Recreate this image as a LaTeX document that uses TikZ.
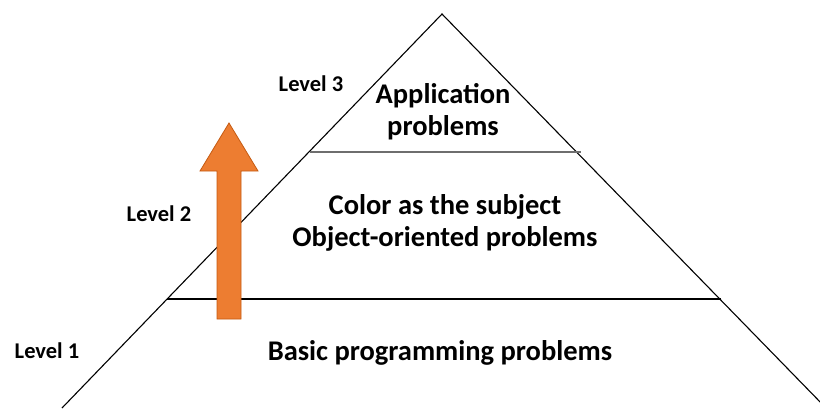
\documentclass[tikz,border=0pt]{standalone}
\usepackage{fontspec}
\setmainfont{Carlito}
\definecolor{arrowfill}{RGB}{237,125,49}
\definecolor{arrowline}{RGB}{197,90,17}
\definecolor{midgray}{RGB}{110,110,110}
\begin{document}
\begin{tikzpicture}[x=1pt,y=-1pt,
  level/.style={font=\bfseries\fontsize{22.5}{26}\selectfont, inner sep=0pt},
  tier/.style={font=\bfseries\fontsize{28.5}{32}\selectfont, align=center, inner sep=0pt}]
\useasboundingbox (0,0) rectangle (820,408);
\coordinate (apex) at (442,14);
\coordinate (baseL) at (62,408);
\coordinate (baseR) at (826,408);
% pyramid
\begin{scope}
\clip (0,0) rectangle (820,408);
\draw[line width=1.1pt] (baseL) -- (apex) -- (baseR);
\end{scope}
\draw[midgray,line width=1.8pt] (310,152) -- (581,152);
\draw[black,line width=2.2pt] (167,299) -- (721,299);
% arrow
\draw[fill=arrowfill,draw=arrowline,line width=0.8pt]
  (217,319) -- (241,319) -- (241,171) -- (258,171) -- (229,123)
  -- (200,171) -- (217,171) -- cycle;
% labels
\node[level] (lv3) at (311,84) {Level 3};
\node[level] (lv2) at (159,214) {Level 2};
\node[level] (lv1) at (47,351) {Level 1};
\node[tier] (app) at (443,112) {Application\\problems};
\node[tier] (color) at (445,223) {Color as the subject\\Object-oriented problems};
\node[tier] (basic) at (440,353) {Basic programming problems};
\end{tikzpicture}
\end{document}
